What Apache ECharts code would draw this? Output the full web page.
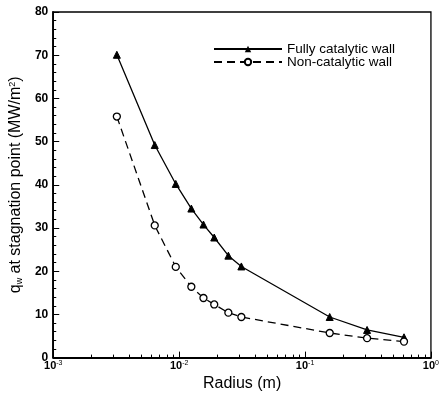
<!DOCTYPE html>
<html>
<head>
<meta charset="utf-8">
<script src="https://cdn.jsdelivr.net/npm/echarts@6/dist/echarts.min.js"></script>
<style>
html, body { margin: 0; padding: 0; background: #fff; }
#main { width: 442px; height: 397px; }
</style>
</head>
<body>
<div id="main"></div>
<script>
// radius (m) of each computed case
var radius = [0.0032, 0.0064, 0.0094, 0.0125, 0.0156, 0.019, 0.0246, 0.0312, 0.157, 0.311, 0.611];
// q_w at stagnation point (MW/m2)
var fullyCatalytic = [70.1, 49.2, 40.2, 34.5, 30.8, 27.8, 23.6, 21.1, 9.4, 6.4, 4.7];
var nonCatalytic = [55.8, 30.6, 21.0, 16.4, 13.8, 12.3, 10.4, 9.4, 5.7, 4.5, 3.7];
var seriesNames = ['Fully catalytic wall', 'Non-catalytic wall'];
var xMinorTicks = [0.002, 0.003, 0.004, 0.005, 0.006, 0.007, 0.008, 0.009,
                   0.02, 0.03, 0.04, 0.05, 0.06, 0.07, 0.08, 0.09,
                   0.2, 0.3, 0.4, 0.5, 0.6, 0.7, 0.8, 0.9];

function pairs(xs, ys) {
    var out = [];
    for (var i = 0; i < xs.length; i++) out.push([xs[i], ys[i]]);
    return out;
}

var FONT = '"Liberation Sans", Arial, sans-serif';

var myChart = echarts.init(document.getElementById('main'));
var option = {
    animation: false,
    backgroundColor: '#fff',
    textStyle: { fontFamily: FONT, color: '#000' },
    grid: {
        left: 50, right: 9, top: 12, bottom: 34,
        show: true, borderColor: '#000', borderWidth: 1.3
    },
    legend: {
        left: 208, top: 37,
        orient: 'vertical',
        itemWidth: 68, itemHeight: 8, itemGap: -1,
        textStyle: { fontFamily: FONT, fontSize: 13.5, color: '#000' },
        data: seriesNames
    },
    xAxis: [{
        type: 'log',
        logBase: 10,
        min: 0.001,
        max: 1,
        name: 'Radius (m)',
        nameLocation: 'middle',
        nameGap: 15,
        nameTextStyle: { fontFamily: FONT, fontSize: 16, color: '#000' },
        axisLine: { show: true, lineStyle: { color: '#000', width: 1.8 } },
        axisTick: { inside: true, length: 6, lineStyle: { color: '#000' } },
        splitLine: { show: false },
        axisLabel: {
            margin: 2,
            formatter: function (v) {
                var e = Math.round(Math.log(v) / Math.LN10);
                return '{b|10}{s|' + e + '}';
            },
            rich: {
                b: { fontFamily: FONT, fontSize: 11, fontWeight: 'bold', color: '#000' },
                s: { fontFamily: FONT, fontSize: 7, color: '#000', verticalAlign: 'top', padding: [0, 0, 5, 0] }
            }
        }
    }, {
        type: 'log',
        logBase: 10,
        min: 0.001,
        max: 1,
        gridIndex: 0,
        position: 'bottom',
        axisLine: { show: false },
        axisLabel: { show: false },
        splitLine: { show: false },
        axisTick: {
            show: true, inside: true, length: 3,
            customValues: xMinorTicks,
            lineStyle: { color: '#000' }
        }
    }],
    yAxis: {
        type: 'value',
        min: 0,
        max: 80,
        interval: 10,
        name: 'q{sub|w} at stagnation point (MW/m{sup|2})',
        nameLocation: 'middle',
        nameRotate: 90,
        nameGap: 26,
        nameTextStyle: {
            fontFamily: FONT, fontSize: 16, color: '#000',
            rich: {
                sub: { fontFamily: FONT, fontSize: 9, color: '#000', padding: [7, 0, 0, 0] },
                sup: { fontFamily: FONT, fontSize: 9, color: '#000', padding: [0, 0, 7, 0] }
            }
        },
        axisLine: { show: true, lineStyle: { color: '#000', width: 1.8 } },
        axisTick: { inside: true, length: 6, lineStyle: { color: '#000' } },
        minorTick: { show: true, splitNumber: 5, length: 3, lineStyle: { color: '#000' } },
        splitLine: { show: false },
        axisLabel: {
            margin: 5,
            fontFamily: FONT, fontSize: 12, fontWeight: 'bold', color: '#000'
        }
    },
    series: [{
        name: seriesNames[0],
        type: 'line',
        xAxisIndex: 0,
        data: pairs(radius, fullyCatalytic),
        symbol: 'triangle',
        symbolSize: 7,
        itemStyle: { color: '#000', borderColor: '#000' },
        lineStyle: { color: '#000', width: 1.3 }
    }, {
        name: seriesNames[1],
        type: 'line',
        xAxisIndex: 0,
        data: pairs(radius, nonCatalytic),
        symbol: 'circle',
        symbolSize: 7,
        itemStyle: { color: '#fff', borderColor: '#000', borderWidth: 1.3 },
        lineStyle: { color: '#000', width: 1.3, type: [8, 5] }
    }]
};
myChart.setOption(option);
</script>
</body>
</html>
